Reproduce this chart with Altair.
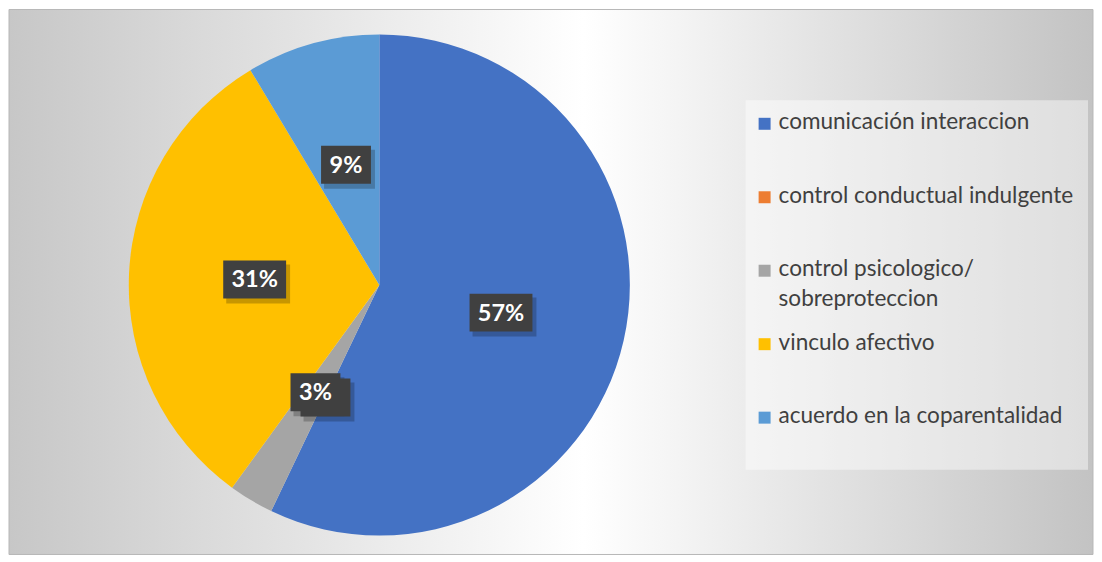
import altair as alt
import pandas as pd

# ---- data ----
categories = [
    "comunicación interaccion",
    "control conductual indulgente",
    "control psicologico/ sobreproteccion",
    "vinculo afectivo",
    "acuerdo en la coparentalidad",
]
values = [57.1, 0.0, 2.9, 31.4, 8.6]
labels = ["57%", "0%", "3%", "31%", "9%"]
colors = ["#4472C4", "#ED7D31", "#A5A5A5", "#FFC000", "#5B9BD5"]
legend_lines = [
    ["comunicación interaccion"],
    ["control conductual indulgente"],
    ["control psicologico/", "sobreproteccion"],
    ["vinculo afectivo"],
    ["acuerdo en la coparentalidad"],
]

# ---- layout ----
W, H = 1086, 546
CX, CY, R = 371, 276, 251
LR = 125
FONT = "Lato"

df = pd.DataFrame({"cat": categories, "value": values, "label": labels, "idx": list(range(len(categories)))})
leg_rows = []
for i, lines in enumerate(legend_lines):
    for j, t in enumerate(lines):
        leg_rows.append({"row": i, "line": j, "text": t, "cat": categories[i]})
leg_df = pd.DataFrame(leg_rows)
sq_df = pd.DataFrame({"row": list(range(len(categories))), "cat": categories})

cscale = alt.Scale(domain=categories, range=colors)

bg = alt.Chart(pd.DataFrame({"a": [0]})).mark_rect(
    color=alt.Gradient(
        gradient="linear",
        stops=[
            alt.GradientStop(color="#c7c7c7", offset=0),
            alt.GradientStop(color="#ffffff", offset=0.53),
            alt.GradientStop(color="#c3c3c3", offset=1),
        ],
        x1=0, x2=1, y1=0, y2=0,
    ),
    stroke="#b8b8b8", strokeWidth=1,
).encode(x=alt.value(0), x2=alt.value(W), y=alt.value(0), y2=alt.value(H))

pie = alt.Chart(df).mark_arc(outerRadius=R).encode(
    theta=alt.Theta("value:Q", stack=True),
    color=alt.Color("cat:N", scale=cscale, legend=None),
    order=alt.Order("idx:Q"),
    x=alt.value(CX),
    y=alt.value(CY),
)

lab = alt.Chart(df).transform_window(
    cum="sum(value)", sort=[alt.SortField("idx")], frame=[None, 0]
).transform_joinaggregate(total="sum(value)").transform_calculate(
    mid="(datum.cum - datum.value/2)/datum.total*2*PI",
    lx=f"{CX}+{LR}*sin(datum.mid)",
    ly=f"{CY}-{LR}*cos(datum.mid)",
    bw="length(datum.label)*13+24",
    bx1="datum.lx - datum.bw/2",
    bx2="datum.lx + datum.bw/2",
    by1="datum.ly - 19",
    by2="datum.ly + 19",
    sx1="datum.bx1 + 3",
    sx2="datum.bx2 + 4",
    sy1="datum.by1 + 4",
    sy2="datum.by2 + 5",
)

shadow = lab.mark_rect(color="#000000", opacity=0.22).encode(
    x=alt.X("sx1:Q", scale=None, axis=None), x2="sx2:Q",
    y=alt.Y("sy1:Q", scale=None, axis=None), y2="sy2:Q",
)
box = lab.mark_rect(color="#404040").encode(
    x=alt.X("bx1:Q", scale=None, axis=None), x2="bx2:Q",
    y=alt.Y("by1:Q", scale=None, axis=None), y2="by2:Q",
)
txt = lab.transform_filter("datum.value > 0").mark_text(
    font=FONT, fontSize=23.5, fontWeight="bold", color="white", baseline="middle", align="center", dy=1
).encode(
    x=alt.X("lx:Q", scale=None, axis=None),
    y=alt.Y("ly:Q", scale=None, axis=None),
    text="label:N",
)

legbox = alt.Chart(pd.DataFrame({"a": [0]})).mark_rect(color="white", opacity=0.45).encode(
    x=alt.value(738), x2=alt.value(1081), y=alt.value(91), y2=alt.value(461)
)

squares = alt.Chart(sq_df).transform_calculate(
    sy="114.5 + 73.6*datum.row"
).mark_point(shape="square", filled=True, size=144, opacity=1).encode(
    x=alt.value(757),
    y=alt.Y("sy:Q", scale=None, axis=None),
    color=alt.Color("cat:N", scale=cscale, legend=None),
)

legtext = alt.Chart(leg_df).transform_calculate(
    ty="114.5 + 73.6*datum.row + 5.5 + 29.5*datum.line"
).mark_text(font=FONT, fontSize=22.6, color="#404040", align="left", baseline="alphabetic").encode(
    x=alt.value(771),
    y=alt.Y("ty:Q", scale=None, axis=None),
    text="text:N",
)

chart = alt.layer(bg, pie, shadow, box, txt, legbox, squares, legtext).properties(
    width=W, height=H, padding=0, background="white"
).configure_view(stroke=None)

chart.save("out.html", embed_options={"renderer": "svg", "actions": False})
